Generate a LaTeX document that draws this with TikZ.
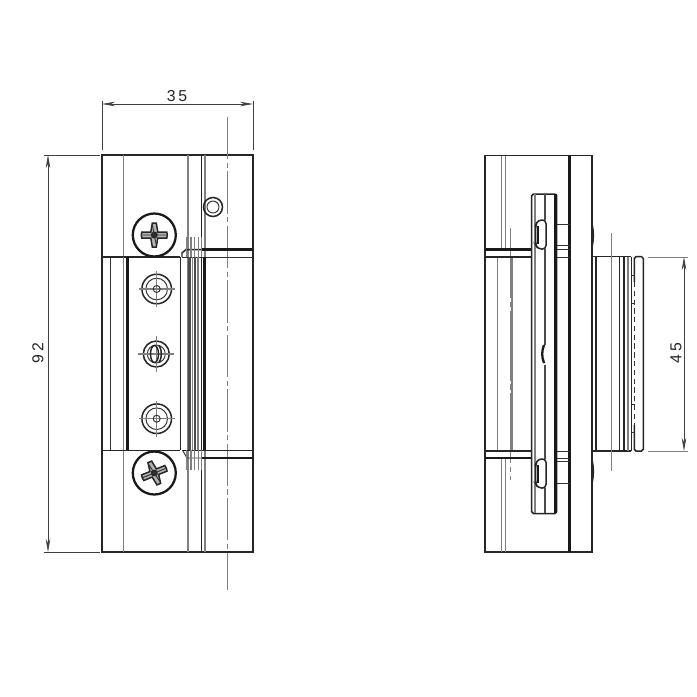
\documentclass[tikz,border=0pt]{standalone}
\usepackage{fontspec}
\usetikzlibrary{arrows.meta}
\setmainfont{Liberation Sans}
\definecolor{thingrey}{gray}{0.5}
\definecolor{midgrey}{gray}{0.3}
\newcommand{\rivet}[3]{%
	\draw[outline] (#1,#2) circle (#3);
	\draw[thinline] (#1,#2) circle (#3-4);
	\draw[greyline] (#1-18,#2) -- (#1+18,#2) (#1,#2-18) -- (#1,#2+18);
}
\newcommand{\headscrew}[3]{%
	\draw[heavy,fill=white] (#1,#2) circle (21.5);
	\begin{scope}[shift={(#1,#2)},rotate=#3]
		\draw[outline,fill=black!30] (-12.5,-3) -- (-3.5,-3) -- (-2,-12) -- (2,-12) -- (3.5,-3) -- (12.5,-3) -- (13,0) -- (12.5,3) -- (3.5,3) -- (2,12) -- (-2,12) -- (-3.5,3) -- (-12.5,3) -- (-13,0) -- cycle;
		\fill[black!85] (0,0) circle (3.5);
		\draw[thinline] (-12,0) -- (12,0) (-2,-10) -- (2,10);
	\end{scope}
}
\begin{document}
\begin{tikzpicture}[
		x=0.02cm, y=-0.02cm,
		outline/.style={line width=0.85pt,black!85},
		heavy/.style={line width=1.3pt,black!90},
		thinline/.style={line width=0.55pt,black!80},
		greyline/.style={line width=0.6pt,thingrey},
		darkbar/.style={line width=1pt,midgrey},
		centreline/.style={line width=0.55pt,thingrey,dash pattern=on 24pt off 2pt on 3pt off 2pt},
		dimline/.style={line width=0.4pt,black!75},
		dimarrow/.style={dimline,{Stealth[length=7.5pt,width=2.6pt]}-{Stealth[length=7.5pt,width=2.6pt]}},
		dimtext/.style={font=\fontsize{9}{11}\selectfont,inner sep=0pt,text=black!85}
		]
		\useasboundingbox[fill=white] (0,0) rectangle (697,697);
		
		% front view
		\draw[outline] (102,155) rectangle (253,552);
		\draw[greyline] (123.5,155) -- (123.5,256) (123.5,451) -- (123.5,552);
		\draw[greyline] (188,155) -- (188,552);
		\draw[greyline] (205,155) -- (205,552);
		\draw[outline] (201.5,155) -- (201.5,249);
		\draw[outline] (201.5,458) -- (201.5,552);
		\draw[centreline] (227,117) -- (227,590);
		
		% hinge band
		\draw[outline] (102,257) -- (180,257);
		\draw[outline] (102,450.5) -- (180,450.5);
		\draw[thinline] (110,257) -- (110,450);
		\draw[greyline] (123.5,257) -- (123.5,450);
		\draw[heavy] (127.5,257) -- (127.5,450);
		\draw[outline] (180.5,257) -- (180.5,450);
		\draw[outline] (182,257) -- (182,253) -- (186,249.5) -- (201.5,249.5);
		\draw[thinline] (182,257) -- (253,257);
		\draw[heavy] (201.5,249.5) -- (253,249.5);
		\draw[outline] (182,450.5) -- (253,450.5);
		\draw[thinline] (183,451) -- (187,458) -- (201.5,458);
		\draw[heavy] (201.5,458) -- (253,458);
		\foreach \gx in {186.5,191,194.5,198.5,201.5} {
			\draw[greyline] (\gx,237) -- (\gx,257);
			\draw[greyline] (\gx,450) -- (\gx,470);
		}
		\draw[darkbar,line width=1.8pt] (189.5,257) -- (189.5,450);
		\draw[greyline] (192.5,257) -- (192.5,450);
		\draw[darkbar] (195,257) -- (195,450);
		\draw[greyline] (198,257) -- (198,450);
		\draw[outline] (201.5,257) -- (201.5,450);
		\draw[heavy] (204.5,257) -- (204.5,450);
		
		% small hole
		\draw[outline] (213,207) circle (9.5);
		\draw[thinline] (213,207) circle (6);
		
		% screws and rivets
		\headscrew{154.3}{235}{0}
		\headscrew{154.3}{473}{22}
		\rivet{156.7}{289}{14.8}
		\draw[thinline] (156.7,289) circle (3.5);
		\rivet{156.3}{354}{13}
		\draw[outline] (154.5,354) ellipse (4 and 8.5);
		\draw[outline] (159,346) arc (-70:70:3.5 and 8.5);
		\rivet{156.7}{418.7}{14.8}
		\draw[thinline] (156.7,418.7) circle (3.5);
		
		% side view
		\draw[outline] (485,155.5) -- (592,155.5) -- (592,552) -- (485,552) -- cycle;
		\draw[heavy] (569.5,155.5) -- (569.5,552);
		\draw[greyline] (501.7,155.5) -- (501.7,249) (501.7,458) -- (501.7,552);
		\draw[greyline] (505.7,155.5) -- (505.7,249) (505.7,458) -- (505.7,552);
		\draw[greyline] (497.7,257) -- (497.7,451);
		\draw[greyline] (512,257) -- (512,451);
		\draw[centreline,dash pattern=on 40pt off 2pt on 3pt off 2pt] (510.5,228) -- (510.5,480);
		\draw[heavy] (485,249.5) -- (531.7,249.5);
		\draw[outline] (485,257) -- (531.7,257);
		\draw[outline] (485,451) -- (531.7,451);
		\draw[heavy] (485,458) -- (531.7,458);
		\draw[thinline] (556.7,249.5) -- (569.5,249.5) (556.7,257) -- (569.5,257);
		\draw[thinline] (556.7,451) -- (569.5,451) (556.7,458) -- (569.5,458);
		
		% bolt pads
		\draw[thinline] (556.7,224) -- (569.5,224) (556.7,245.7) -- (569.5,245.7);
		\draw[thinline] (556.7,461.7) -- (569.5,461.7) (556.7,483) -- (569.5,483);
		\draw[outline,fill=black!60] (592,224) to[bend left=12] (592,247) -- cycle;
		\draw[outline,fill=black!60] (592,460) to[bend left=12] (592,483) -- cycle;
		
		% plate
		\draw[outline,rounded corners=1pt] (531.7,194) rectangle (556.7,513.5);
		\draw[darkbar,line width=1.3pt] (545,194) -- (545,220) (545,249) -- (545,345) (545,365) -- (545,459) (545,488) -- (545,513);
		\draw[heavy] (555.5,194) -- (555.5,513);
		\draw[greyline,line width=1pt] (534.7,194) -- (534.7,513);
		\draw[outline,fill=white,rounded corners=2pt] (546,220) -- (538,220) -- (535.7,225) -- (535.7,245) -- (538,249) -- (546,249) -- cycle;
		\draw[heavy] (538,226) -- (538,244);
		\draw[outline,fill=white,rounded corners=2pt] (546,459) -- (538,459) -- (535.7,464) -- (535.7,484) -- (538,488) -- (546,488) -- cycle;
		\draw[heavy] (538,465) -- (538,483);
		\draw[heavy] (544,345) to[bend right=20] (544,363);
		
		% right block
		\draw[outline] (592,256.7) -- (631.3,256.7) (592,451) -- (631.3,451);
		\draw[outline] (596,256.7) -- (596,451);
		\draw[greyline] (611.7,233) -- (611.7,471);
		\draw[outline] (619.3,256.7) -- (619.3,451);
		\draw[outline] (624,256.7) -- (624,451);
		\draw[greyline,line width=1.2pt] (628,256.7) -- (628,451);
		\draw[outline] (631.3,256.7) -- (631.3,451);
		\draw[outline,rounded corners=1pt] (634.3,282) -- (634.3,256.7) -- (643.3,256.7) -- (643.3,451) -- (634.3,451) -- (634.3,425);
		\draw[thinline,densely dashed] (634.3,282) -- (634.3,425);
		\draw[thinline] (631.3,275) -- (635,275) (631.3,303) -- (635,303) (631.3,404) -- (635,404) (631.3,432) -- (635,432);
		
		% dimensions
		\coordinate (wL) at (102,104);
		\coordinate (wR) at (253,104);
		\coordinate (hT) at (48,155);
		\coordinate (hB) at (48,552);
		\coordinate (dT) at (684,257);
		\coordinate (dB) at (684,451);
		\draw[dimline] (102,101) -- (102,150) (253,101) -- (253,150);
		\draw[dimline] (44,155) -- (100,155) (44,552) -- (100,552);
		\draw[dimline,thingrey] (648,257) -- (688,257) (648,451) -- (688,451);
		\draw[dimarrow] (wL) -- (wR);
		\draw[dimarrow] (hT) -- (hB);
		\draw[dimarrow] (dT) -- (dB);
		\node[dimtext] (lWidth) at (177,96) {3\kern1.6pt 5};
		\node[dimtext,rotate=90] (lHeight) at (38,353) {9\kern1.6pt 2};
		\node[dimtext,rotate=90] (lClear) at (676,353) {4\kern1.6pt 5};
	\end{tikzpicture}
\end{document}
